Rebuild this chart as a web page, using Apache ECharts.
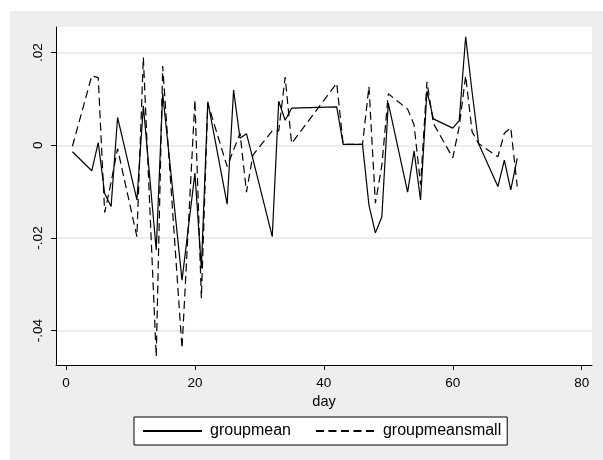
<!DOCTYPE html>
<html>
<head>
<meta charset="utf-8">
<script src="https://cdn.jsdelivr.net/npm/echarts@6/dist/echarts.min.js"></script>
<style>
  html, body { margin: 0; padding: 0; background: #ffffff; width: 603px; height: 460px; overflow: hidden; }
  #c { position: absolute; left: 10px; top: 11px; width: 593px; height: 449px; background: #eeeeee; }
</style>
</head>
<body>
<div id="c"></div>
<script>
// ---- data ----
const days = [1, 4, 5, 6, 7, 8, 11, 12, 14, 15, 18, 20, 21, 22, 25, 26, 27, 28, 29, 32, 33, 34, 35,
              42, 43, 46, 47, 48, 49, 50, 53, 54, 55, 56, 57, 60, 61, 62, 63, 64, 67, 68, 69, 70];
const groupmean = [-0.0014, -0.0055, 0.0006, -0.0104, -0.0132, 0.0060, -0.0118, 0.0085, -0.0226, 0.0112,
                   -0.0291, -0.0060, -0.0265, 0.0094, -0.0127, 0.0119, 0.0015, 0.0025, -0.0030, -0.0197,
                   0.0095, 0.0054, 0.0080, 0.0083, 0.0002, 0.0002, -0.0129, -0.0189, -0.0154, 0.0091,
                   -0.0101, -0.0012, -0.0118, 0.0117, 0.0057, 0.0037, 0.0053, 0.0234, 0.0115, 0.0004,
                   -0.0089, -0.0032, -0.0096, -0.0028];
const groupmeansmall = [-0.0002, 0.0150, 0.0146, -0.0145, -0.0080, -0.0007, -0.0197, 0.0190, -0.0456, 0.0171,
                        -0.0438, 0.0098, -0.0330, 0.0091, -0.0046, -0.0010, 0.0026, -0.0101, -0.0021, 0.0031,
                        0.0031, 0.0147, 0.0004, 0.0134, 0.0002, 0.0002, 0.0127, -0.0125, -0.0043, 0.0111,
                        0.0078, 0.0044, -0.0085, 0.0137, 0.0047, -0.0027, 0.0040, 0.0150, 0.0029, 0.0004,
                        -0.0025, 0.0026, 0.0038, -0.0089];
const xTicks = [0, 20, 40, 60, 80];
const yTicks = [-0.04, -0.02, 0, 0.02];
const seriesNames = ['groupmean', 'groupmeansmall'];
const xTitle = 'day';

const FONT = '"Liberation Sans", Arial, Helvetica, sans-serif';
const chart = echarts.init(document.getElementById('c'), null, { renderer: 'canvas' });

function yFmt(v) {
  if (Math.abs(v) < 1e-12) return '0';
  const s = String(Math.abs(+v.toFixed(6))).replace(/^0/, '');
  return (v < 0 ? '-' : '') + s;
}

chart.setOption({
  animation: false,
  backgroundColor: 'transparent',
  textStyle: { fontFamily: FONT, color: '#000' },
  grid: {
    left: 46, top: 16, right: 11, bottom: 95,
    show: true, backgroundColor: '#ffffff', borderWidth: 0
  },
  legend: {
    left: 124, top: 406,
    orient: 'horizontal',
    backgroundColor: '#ffffff',
    borderColor: '#000000', borderWidth: 1,
    padding: [6, 6, 6, 8],
    itemGap: 24,
    itemWidth: 59,
    itemHeight: 14,
    itemStyle: { color: 'rgba(0,0,0,0)', borderColor: 'rgba(0,0,0,0)', borderWidth: 0, opacity: 0 },
    textStyle: { fontFamily: FONT, fontSize: 16, color: '#000', padding: [0, 0, 0, 3] },
    data: seriesNames
  },
  xAxis: {
    type: 'value',
    min: -1.55, max: 81.6,
    name: xTitle, nameLocation: 'middle', nameGap: 26,
    nameTextStyle: { fontFamily: FONT, fontSize: 14.5, color: '#000' },
    axisLine: { show: true, onZero: false, lineStyle: { color: '#000', width: 1 } },
    axisTick: { show: true, length: 5, customValues: xTicks, lineStyle: { color: '#000', width: 1 } },
    axisLabel: { show: true, customValues: xTicks, margin: 11, fontFamily: FONT, fontSize: 13.5, color: '#000' },
    splitLine: { show: false }
  },
  yAxis: {
    type: 'value',
    min: -0.0474, max: 0.02552,
    axisLine: { show: true, onZero: false, lineStyle: { color: '#000', width: 1 } },
    axisTick: { show: true, length: 5, customValues: yTicks, lineStyle: { color: '#000', width: 1 } },
    axisLabel: { show: true, customValues: yTicks, rotate: 90, margin: 11, fontFamily: FONT, fontSize: 13.5, color: '#000', formatter: yFmt },
    splitLine: { show: true, lineStyle: { color: '#e6e6e6', width: 1.5 } }
  },
  series: [
    {
      name: seriesNames[0], type: 'line', symbol: 'none',
      data: days.map((d, i) => [d, groupmean[i]]),
      lineStyle: { color: '#000', width: 1.2, type: 'solid' },
      itemStyle: { color: '#000' }
    },
    {
      name: seriesNames[1], type: 'line', symbol: 'none',
      data: days.map((d, i) => [d, groupmeansmall[i]]),
      lineStyle: { color: '#000', width: 1.2, type: [8, 4.5] },
      itemStyle: { color: '#000' }
    }
  ]
});
</script>
</body>
</html>
